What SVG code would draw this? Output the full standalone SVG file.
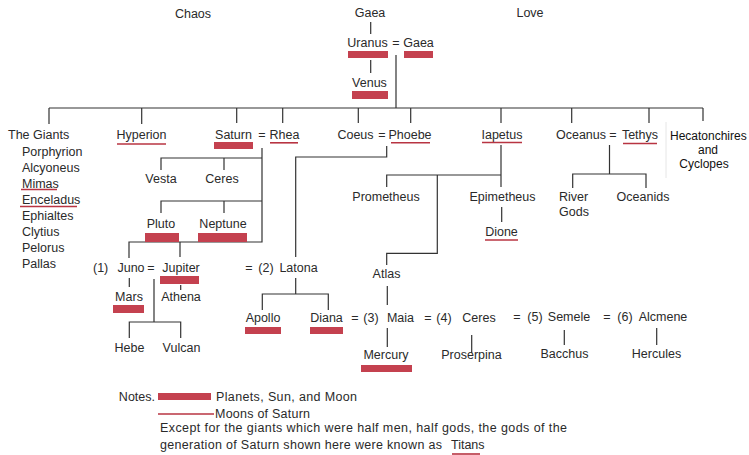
<svg xmlns="http://www.w3.org/2000/svg" width="749" height="455" viewBox="0 0 749 455">
<style>
text{font-family:"Liberation Sans",Arial,sans-serif;font-size:12.5px;fill:#2a2a2a}
.m{text-anchor:middle}
.e{text-anchor:end}
.bar{fill:#c4414f}
.ul{stroke:#b83442;stroke-width:1.6;fill:none}
.c path{stroke:#333;stroke-width:1.2;fill:none}
</style>
<rect width="749" height="455" fill="#fff"/>
<g class="c" id="connectors">
<path d="M370.7 22V34M370.7 60V73M396 55V108"/>
<path d="M49 108H703M49 108V124M141.7 108V124M236.7 108V123M282.7 108V123M358.3 108V123M410.7 108V123M501 108V123M571.7 108V123M649 108V123M703 108V121"/>
<path d="M262 148V242H129V258M161 170V158H262M224 158V170M161 213V201H262M224 201V213M180 242V257"/>
<path d="M129.3 278V287M154 279V322M129.3 338V322H180.7V338M180.7 285V290"/>
<path d="M386.7 146V157H295.7V257M295.7 278V294M262.3 310V294H328.3V310"/>
<path d="M501 145V187M386.7 187V175H501M437.3 175V253.3H386.7V265M501.7 207V222"/>
<path d="M387.3 286V305M387.3 328V347M471.7 335V353M564.3 330V345M656.7 328V345"/>
<path d="M609.5 145V174M572.7 188V174H646V188"/>
</g>
<line x1="666" y1="122" x2="666" y2="178" stroke="#e6e6e6" stroke-width="1"/>
<g id="chaos"><text class="m" x="193" y="18">Chaos</text></g>
<g id="gaea-top"><text class="m" x="370" y="17">Gaea</text></g>
<g id="love"><text class="m" x="530" y="17">Love</text></g>
<g id="uranus"><text class="m" x="367.5" y="47">Uranus</text><rect class="bar" x="348" y="51" width="40" height="7"/></g>
<text class="m" x="396" y="47">=</text>
<g id="gaea"><text class="m" x="418.5" y="47">Gaea</text><rect class="bar" x="404" y="51" width="29" height="7"/></g>
<g id="venus"><text class="m" x="369.5" y="87">Venus</text><rect class="bar" x="352" y="91" width="36" height="8"/></g>
<g id="giants">
<text x="8" y="139">The Giants</text>
<text x="22" y="156">Porphyrion</text>
<text x="22" y="172">Alcyoneus</text>
<text x="22" y="188">Mimas</text>
<text x="22" y="204">Enceladus</text>
<text x="22" y="220">Ephialtes</text>
<text x="22" y="236">Clytius</text>
<text x="22" y="252">Pelorus</text>
<text x="22" y="268">Pallas</text>
<path class="ul" d="M21 189.5H57M20 206.5H77"/>
</g>
<g id="hyperion"><text class="m" x="141.5" y="139">Hyperion</text><path class="ul" d="M117 144H166"/></g>
<g id="saturn"><text class="m" x="233.5" y="139">Saturn</text><rect class="bar" x="214" y="142" width="39" height="7"/></g>
<text class="m" x="262" y="139">=</text>
<g id="rhea"><text class="m" x="284.5" y="139">Rhea</text><path class="ul" d="M270 142.8H298"/></g>
<g id="coeus"><text class="m" x="355.5" y="139">Coeus</text></g>
<text class="m" x="382" y="139">=</text>
<g id="phoebe"><text class="m" x="410" y="139">Phoebe</text><path class="ul" d="M391 142.8H430"/></g>
<g id="iapetus"><text class="m" x="502" y="139">Iapetus</text><path class="ul" d="M482 142.5H522"/></g>
<g id="oceanus"><text class="m" x="581" y="139">Oceanus</text></g>
<text class="m" x="613" y="139">=</text>
<g id="tethys"><text class="m" x="640" y="139">Tethys</text><path class="ul" d="M623 143.5H657"/></g>
<g id="hecatonchires"><text x="670" y="140" style="fill:#111;font-size:12px">Hecatonchires</text><text class="m" x="708" y="154" style="fill:#111;font-size:12px">and</text><text class="m" x="704" y="168" style="fill:#111;font-size:12px">Cyclopes</text></g>
<g id="vesta"><text class="m" x="161" y="183">Vesta</text></g>
<g id="ceres1"><text class="m" x="222" y="183">Ceres</text></g>
<g id="pluto"><text class="m" x="161" y="228">Pluto</text><rect class="bar" x="145" y="233" width="34" height="9"/></g>
<g id="neptune"><text class="m" x="223" y="228">Neptune</text><rect class="bar" x="198" y="233" width="49" height="9"/></g>
<g id="juno"><text x="93" y="272">(1)</text><text class="m" x="131" y="272">Juno</text></g>
<text class="m" x="151" y="272">=</text>
<g id="jupiter"><text class="m" x="181" y="272">Jupiter</text><rect class="bar" x="160" y="276" width="39" height="8"/></g>
<g id="mars"><text class="m" x="129" y="301">Mars</text><rect class="bar" x="113" y="305" width="31" height="8"/></g>
<g id="athena"><text class="m" x="181" y="301">Athena</text></g>
<g id="hebe"><text class="m" x="129.5" y="352">Hebe</text></g>
<g id="vulcan"><text class="m" x="181.5" y="352">Vulcan</text></g>
<g id="latona"><text class="m" x="249" y="272">=</text><text class="m" x="266" y="272">(2)</text><text class="m" x="298.5" y="272">Latona</text></g>
<g id="apollo"><text class="m" x="263" y="322">Apollo</text><rect class="bar" x="245" y="327" width="36" height="7"/></g>
<g id="diana"><text class="m" x="326.5" y="322">Diana</text><rect class="bar" x="310" y="327" width="33" height="7"/></g>
<g id="maia"><text class="m" x="355" y="322">=</text><text class="m" x="371" y="322">(3)</text><text class="m" x="400.5" y="322">Maia</text></g>
<g id="ceres2"><text class="m" x="428" y="322">=</text><text class="m" x="444" y="322">(4)</text><text class="m" x="479" y="322">Ceres</text></g>
<g id="semele"><text class="m" x="517" y="321">=</text><text class="m" x="535" y="321">(5)</text><text class="m" x="569" y="321">Semele</text></g>
<g id="alcmene"><text class="m" x="607" y="321">=</text><text class="m" x="625" y="321">(6)</text><text class="m" x="663" y="321">Alcmene</text></g>
<g id="mercury"><text class="m" x="386" y="359">Mercury</text><rect class="bar" x="361" y="365" width="51" height="7"/></g>
<g id="proserpina"><text class="m" x="471.5" y="359">Proserpina</text></g>
<g id="bacchus"><text class="m" x="564.5" y="358">Bacchus</text></g>
<g id="hercules"><text class="m" x="656.5" y="358">Hercules</text></g>
<g id="prometheus"><text class="m" x="386" y="201">Prometheus</text></g>
<g id="epimetheus"><text class="m" x="502.5" y="201">Epimetheus</text></g>
<g id="dione"><text class="m" x="501.5" y="236">Dione</text><path class="ul" d="M485 240H518"/></g>
<g id="atlas"><text class="m" x="386.5" y="278">Atlas</text></g>
<g id="river-gods"><text x="559" y="201">River</text><text x="559" y="216">Gods</text></g>
<g id="oceanids"><text class="m" x="643" y="201">Oceanids</text></g>
<g id="notes">
<text class="e" x="155" y="401">Notes.</text>
<rect class="bar" x="158" y="393" width="53" height="7"/>
<text x="216" y="401" textLength="141">Planets, Sun, and Moon</text>
<path class="ul" d="M158 414H214"/>
<text x="215" y="418" textLength="95">Moons of Saturn</text>
<text x="160" y="432" textLength="407">Except for the giants which were half men, half gods, the gods of the</text>
<text x="160" y="449" textLength="282">generation of Saturn shown here were known as</text>
<text x="451" y="449">Titans</text>
<path class="ul" d="M452 454H480"/>
</g>
</svg>
